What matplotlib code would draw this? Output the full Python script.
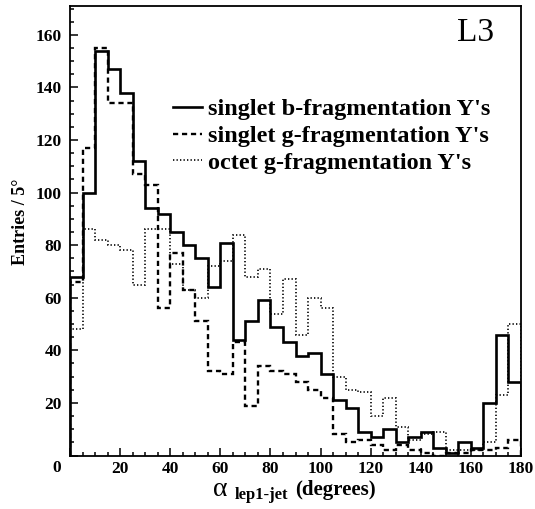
import numpy as np
import matplotlib
matplotlib.use('Agg')
import matplotlib.pyplot as plt
from matplotlib.transforms import blended_transform_factory, offset_copy

plt.rcParams['font.family'] = ['Liberation Serif', 'DejaVu Serif']
plt.rcParams['font.weight'] = 'bold'

# bin edges: 5 degree bins from 0 to 180
edges = np.arange(0, 185, 5)

# entries per bin
singlet_b = [68, 100, 154, 147, 138, 112, 94, 92, 85, 80, 75, 64, 81, 44, 51, 59, 49, 43,
             38, 39, 31, 21, 18, 9, 7, 10, 5, 7, 9, 3, 1, 5, 3, 20, 46, 28]
singlet_g = [66, 117, 155, 134, 134, 107, 103, 56, 77, 63, 51, 32, 31, 43, 19, 34, 32, 31,
             28, 25, 22, 8, 5, 6, 4, 2, 4, 2, 1, 0, 1, 1, 2, 2, 3, 6]
octet_g = [48, 86, 82, 80, 78, 65, 86, 86, 73, 63, 60, 72, 74, 84, 68, 71, 54, 67,
           46, 60, 56, 30, 25, 24, 15, 22, 11, 6, 8, 9, 2, 2, 2, 5, 23, 50]

labels = ["singlet b-fragmentation Y's",
          "singlet g-fragmentation Y's",
          "octet g-fragmentation Y's"]
xticks = np.arange(0, 181, 20)
yticks = np.arange(0, 161, 20)

fig = plt.figure(figsize=(5.35, 5.09), dpi=100)
ax = fig.add_axes([70/535, 53.5/509, 451/535, 449.5/509])

ax.stairs(singlet_b, edges, color='black', lw=1.9, label=labels[0])
ax.stairs(singlet_g, edges, color='black', lw=1.7, ls=(0, (2.2, 1.6)), label=labels[1])
ax.stairs(octet_g, edges, color='black', lw=1.2, ls=(0, (0.8, 1.3)), label=labels[2])

ax.set_xlim(0, 180)
ax.set_ylim(0, 171)
for s in ax.spines.values():
    s.set_linewidth(1.3)

ax.set_xticks(xticks)
ax.set_xticklabels([''] + [str(v) for v in xticks[1:]])
ax.set_yticks(yticks)
ax.set_yticklabels([''] + [str(v) for v in yticks[1:]])
ax.set_xticks(np.arange(0, 181, 5), minor=True)
ax.set_yticks(np.arange(0, 171, 5), minor=True)
ax.tick_params(which='both', direction='in', labelsize=12.5, width=1.1)
ax.tick_params(which='major', length=6)
ax.tick_params(which='minor', length=3)
ax.tick_params(axis='x', pad=4)
ax.tick_params(axis='y', pad=6)

# the shared corner "0" sits a little below the axis
tr = offset_copy(blended_transform_factory(ax.transAxes, ax.transData),
                 fig=fig, x=-9, y=-12, units='dots')
ax.text(0, 0, '0', transform=tr, ha='right', va='center', fontsize=12.5, fontweight='bold')

ax.set_ylabel('Entries / 5\u00b0', fontsize=13, fontweight='bold')
ax.yaxis.set_label_coords(-0.09, 0.52)

# x axis title: alpha with subscript
fig.text(213/535, 1 - 496/509, '\u03b1', fontsize=20, fontweight='normal', ha='left', va='baseline')
fig.text(235/535, 1 - 499/509, 'lep1-jet', fontsize=12, fontweight='bold', ha='left', va='baseline')
fig.text(295/535, 1 - 495/509, '(degrees)', fontsize=15, fontweight='bold', ha='left', va='baseline')

ax.text(0.94, 0.975, 'L3', transform=ax.transAxes, fontsize=24, fontweight='normal',
        ha='right', va='top')

ax.legend(loc='upper left', bbox_to_anchor=(0.228, 0.795), frameon=False,
          fontsize=17.5, handlelength=1.2, handletextpad=0.25, labelspacing=0.2,
          borderpad=0, borderaxespad=0)

fig.savefig('out.png', dpi=100)
